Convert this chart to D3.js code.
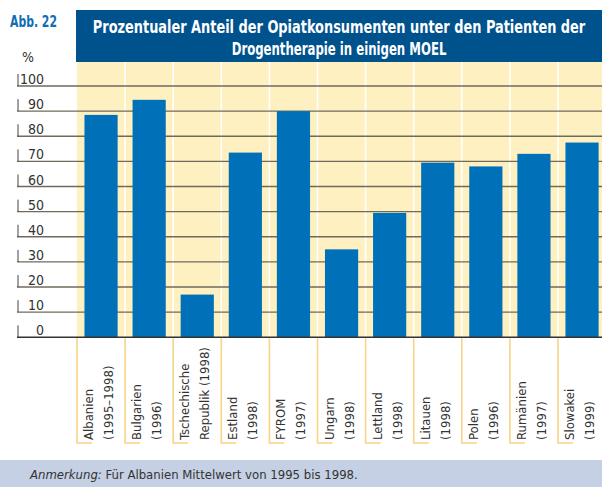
<!DOCTYPE html>
<html>
<head>
<meta charset="utf-8">
<script src="https://cdn.jsdelivr.net/npm/d3@7"></script>
<style>
  body { margin: 0; background: #fff; }
  text { font-family: "Liberation Sans Narrow", "DejaVu Sans Condensed", "Roboto Condensed", sans-serif; font-stretch: condensed; }
</style>
</head>
<body>
<div id="chart"></div>
<script>
// data
var labelLine1 = ["Albanien","Bulgarien","Tschechische","Estland","FYROM","Ungarn","Lettland","Litauen","Polen","Rumänien","Slowakei"];
var labelLine2 = ["(1995–1998)","(1996)","Republik (1998)","(1998)","(1997)","(1998)","(1998)","(1998)","(1996)","(1997)","(1999)"];
var values = [88.5, 94.5, 17, 73.5, 90, 35, 49.5, 69.5, 68, 73, 77.5];
var yTicks = [0,10,20,30,40,50,60,70,80,90,100];
var titleLines = ["Prozentualer Anteil der Opiatkonsumenten unter den Patienten der","Drogentherapie in einigen MOEL"];
var titleWidths = [493, 215];

var W = 602, H = 487;
var svg = d3.select("#chart").append("svg")
    .attr("width", W).attr("height", H);

var x = d3.scaleBand()
    .domain(labelLine1)
    .range([77, 77 + 11 * 48.1])
    .paddingInner(0).paddingOuter(0);
var y = d3.scaleLinear()
    .domain([0, 100])
    .range([337.3, 86]);

// yellow plot background
svg.append("rect")
    .attr("x", 77).attr("y", 62)
    .attr("width", W - 77).attr("height", y(0) - 62)
    .attr("fill", "#fef0c0");

// white band separators
svg.append("g")
    .selectAll("line")
    .data(labelLine1.slice(1))
    .enter()
    .append("line")
    .attr("x1", function (d) { return x(d) }).attr("x2", function (d) { return x(d) })
    .attr("y1", 62).attr("y2", y(0))
    .attr("stroke", "#ffffff").attr("stroke-width", 1.6);

// gridlines + labels
var grid = svg.append("g");
grid.selectAll("line.g")
    .data(yTicks.filter(function (d) { return d > 0 }))
    .enter()
    .append("line")
    .attr("x1", 17).attr("x2", W)
    .attr("y1", function (d) { return y(d) }).attr("y2", function (d) { return y(d) })
    .attr("stroke", "#6f6a5c").attr("stroke-width", 1.4);
grid.selectAll("line.t")
    .data(yTicks)
    .enter()
    .append("line")
    .attr("x1", 18).attr("x2", 18)
    .attr("y1", function (d) { return y(d) - 12 }).attr("y2", function (d) { return y(d) })
    .attr("stroke", "#444").attr("stroke-width", 1);
grid.selectAll("text")
    .data(yTicks)
    .enter()
    .append("text")
    .attr("x", 44).attr("y", function (d) { return y(d) - 2 })
    .attr("text-anchor", "end")
    .attr("font-size", 14).attr("fill", "#333")
    .text(function (d) { return d });

// bars
svg.append("g")
    .selectAll("rect")
    .data(values)
    .enter()
    .append("rect")
    .attr("x", function (d, i) { return x(labelLine1[i]) + x.bandwidth() * 0.155 })
    .attr("width", x.bandwidth() * 0.69)
    .attr("y", function (d) { return y(d) })
    .attr("height", function (d) { return y(0) - y(d) })
    .attr("fill", "#0071b9");

// base line
svg.append("line")
    .attr("x1", 17).attr("x2", W)
    .attr("y1", y(0)).attr("y2", y(0))
    .attr("stroke", "#333").attr("stroke-width", 1.5);

// category labels with the yellow L brackets
var lab = svg.append("g")
    .selectAll("g")
    .data(labelLine1)
    .enter()
    .append("g")
    .attr("transform", function (d) { return "translate(" + x(d) + ",0)" });
lab.append("path")
    .attr("d", "M0," + (y(0) + 1) + "V443H15")
    .attr("fill", "none")
    .attr("stroke", "#f8d485").attr("stroke-width", 1.6);
lab.append("text")
    .attr("transform", "translate(16,440) rotate(-90)")
    .attr("font-size", 13).attr("fill", "#333")
    .text(function (d) { return d });
lab.append("text")
    .attr("transform", "translate(36,440) rotate(-90)")
    .attr("font-size", 13).attr("fill", "#333")
    .text(function (d, i) { return labelLine2[i] });

// title box
svg.append("rect")
    .attr("x", 76).attr("y", 10)
    .attr("width", W - 76).attr("height", 52)
    .attr("fill", "#00528c");
// squeeze the title lines horizontally to the reference widths
svg.selectAll("text.title")
    .data(titleLines)
    .enter()
    .append("text")
    .attr("class", "title")
    .attr("text-anchor", "middle")
    .attr("font-size", 17).attr("font-weight", "bold").attr("fill", "#fff")
    .text(function (d) { return d })
    .attr("transform", function (d, i) {
        var k = titleWidths[i] / this.getComputedTextLength();
        return "translate(339," + (33 + i * 22) + ") scale(" + k + ",1)";
    });

svg.append("text")
    .attr("x", 10).attr("y", 27)
    .attr("font-size", 15).attr("font-weight", "bold").attr("fill", "#0f6db3")
    .attr("textLength", 47).attr("lengthAdjust", "spacingAndGlyphs")
    .text("Abb. 22");
svg.append("text")
    .attr("x", 22).attr("y", 62)
    .attr("font-size", 14).attr("fill", "#333")
    .text("%");

// note
svg.append("rect")
    .attr("x", 0).attr("y", 460)
    .attr("width", W).attr("height", H - 460)
    .attr("fill", "#c5d0e4");
var note = svg.append("text")
    .attr("x", 30).attr("y", 479)
    .attr("font-size", 13).attr("fill", "#333");
note.append("tspan").attr("font-style", "italic").text("Anmerkung:");
note.append("tspan").text(" Für Albanien Mittelwert von 1995 bis 1998.");
</script>
</body>
</html>
